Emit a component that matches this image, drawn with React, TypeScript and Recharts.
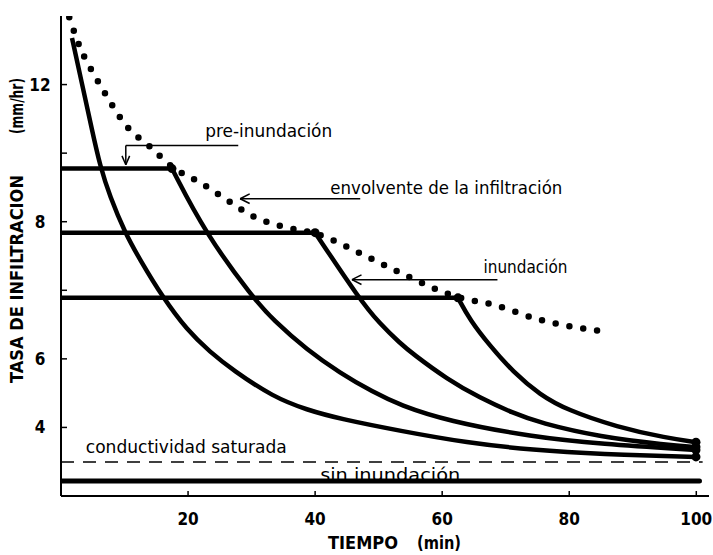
import React from 'react';
import { LineChart, Line, XAxis, YAxis, ReferenceLine, ReferenceDot } from 'recharts';

const FONT = '"DejaVu Sans Condensed", "DejaVu Sans", sans-serif';

// axis ticks
const X_TICKS = [20, 40, 60, 80, 100];
const Y_TICKS = [2, 4, 6, 8, 10, 12];
const Y_TICK_LABELS = ['4', '6', '', '8', '', '12'];

// envolvente de la infiltración (dotted)
const ENV_T = [1.3, 3.0, 5.5, 7.4, 10.4, 14.0, 17.5, 21.9, 26.1, 29.8, 34.8, 40.0, 48.2, 53.4, 62.5, 68.0, 75.4, 85.7];
const ENV_V = [13.96, 13.08, 12.2, 11.6, 10.77, 10.19, 9.6, 9.14, 8.64, 8.2, 7.86, 7.66, 6.98, 6.51, 5.8, 5.58, 5.14, 4.79];

// curve A (no pre-inundación plateau)
const A_T = [1.73, 3.31, 4.88, 6.14, 7.71, 10.07, 12.43, 16.06, 19.83, 23.45, 27.07, 33.37, 38.72, 43.92, 53.36, 63.91, 74.3, 84.84, 99.95];
const A_V = [13.36, 12.02, 10.68, 9.63, 8.73, 7.68, 6.89, 5.78, 4.84, 4.2, 3.67, 2.89, 2.51, 2.25, 1.9, 1.55, 1.34, 1.22, 1.14];

// plateaus (pre-inundación rates) and their end times
const PLATEAU_V = [9.55, 7.68, 5.78];
const PLATEAU_END = [17.47, 40.0, 62.49];

// decay after each plateau
const B_T = [17.47, 22.67, 30.22, 33.37, 38.72, 43.92, 49.11, 53.36, 60.76, 74.3, 84.84, 99.95];
const B_V = [9.55, 7.68, 5.78, 5.14, 4.26, 3.59, 3.03, 2.65, 2.19, 1.72, 1.52, 1.34];
const C_T = [40.0, 47.06, 50.21, 53.36, 55.41, 60.76, 65.95, 71.15, 75.4, 84.84, 95.39, 99.95];
const C_V = [7.68, 5.72, 5.02, 4.46, 4.14, 3.41, 2.86, 2.42, 2.13, 1.72, 1.49, 1.43];
const D_T = [62.49, 64.38, 67.53, 71.15, 75.4, 79.65, 87.52, 95.39, 99.95];
const D_V = [5.78, 5.13, 4.38, 3.62, 2.95, 2.51, 2.01, 1.69, 1.57];

// sin inundación and conductividad saturada
const SIN_T = [0, 100.5];
const SIN_V = [0.44, 0.44];
const KSAT_T = [0, 101];
const KSAT_V = [0.99, 0.99];

// annotation leader lines (data coordinates)
const LEADERS = [
  [10.2, 10.22, 27.9, 10.22],
  [10.2, 10.22, 10.2, 9.66],
  [10.2, 9.66, 9.6, 9.92],
  [10.2, 9.66, 10.8, 9.92],
  [28.2, 8.67, 47.1, 8.67],
  [28.2, 8.67, 29.7, 8.81],
  [28.2, 8.67, 29.7, 8.53],
  [45.8, 6.31, 68.7, 6.31],
  [45.8, 6.31, 47.3, 6.45],
  [45.8, 6.31, 47.3, 6.17],
];

const ANNOT_TEXT = ['pre-inundación', 'envolvente de la infiltración', 'inundación', 'conductividad saturada', 'sin inundación'];
const ANNOT_T = [22.7, 42.4, 66.5, 3.9, 40.8];
const ANNOT_V = [10.66, 8.99, 6.69, 1.43, 0.61];
const ANNOT_WIDTH = [127, 232, 84, 201, 140];

const zip = (t: number[], v: number[]) => t.map((x, i) => ({ t: x, v: v[i] }));

const envData = zip(ENV_T, ENV_V);
const aData = zip(A_T, A_V);
const bData = zip(B_T, B_V);
const cData = zip(C_T, C_V);
const dData = zip(D_T, D_V);
const plateauData = PLATEAU_V.map((v, i) => zip([0, PLATEAU_END[i]], [v, v]));
const sinData = zip(SIN_T, SIN_V);
const ksatData = zip(KSAT_T, KSAT_V);

const YTick = (props: any) => {
  const { x, y, payload } = props;
  const label = Y_TICK_LABELS[Y_TICKS.indexOf(payload.value)];
  return (
    <text x={x} y={y} textAnchor="middle" dominantBaseline="central" fontFamily={FONT} fontWeight="bold" fontSize={17} fill="#000">
      {label}
    </text>
  );
};

const XTick = (props: any) => {
  const { x, y, payload } = props;
  return (
    <text x={x} y={y} textAnchor="middle" dominantBaseline="central" fontFamily={FONT} fontWeight="bold" fontSize={17} fill="#000">
      {payload.value}
    </text>
  );
};

const XTitle = (props: any) => {
  const vb = props.viewBox || { x: 61, y: 496, width: 648, height: 59 };
  const y = vb.y + 47;
  return (
    <g>
      <text x={vb.x + 267} y={y} dominantBaseline="central" fontFamily={FONT} fontWeight="bold" fontSize={17} textLength={70} lengthAdjust="spacingAndGlyphs" fill="#000">TIEMPO</text>
      <text x={vb.x + 356} y={y} dominantBaseline="central" fontFamily={FONT} fontWeight="bold" fontSize={17} textLength={44} lengthAdjust="spacingAndGlyphs" fill="#000">(min)</text>
    </g>
  );
};

const YTitle = () => {
  const x = 17;
  return (
    <g>
      <text x={x} y={279} transform={`rotate(-90 ${x} 279)`} textAnchor="middle" dominantBaseline="central" fontFamily={FONT} fontWeight="bold" fontSize={17} textLength={208} lengthAdjust="spacingAndGlyphs" fill="#000">TASA DE INFILTRACION</text>
      <text x={x} y={106} transform={`rotate(-90 ${x} 106)`} textAnchor="middle" dominantBaseline="central" fontFamily={FONT} fontWeight="bold" fontSize={17} textLength={56} lengthAdjust="spacingAndGlyphs" fill="#000">(mm/hr)</text>
    </g>
  );
};

const endDots = (len: number, withStart: boolean) => (p: any) => {
  if (p.index === len - 1 || (withStart && p.index === 0)) {
    return <circle key={p.index} cx={p.cx} cy={p.cy} r={4.5} fill="#000" />;
  }
  return <g key={p.index} />;
};

const annotLabel = (i: number) => (p: any) => {
  const vb = p.viewBox || { x: 0, y: 0 };
  return (
    <text x={vb.x} y={vb.y} dominantBaseline="central" fontFamily={FONT} fontSize={17} textLength={ANNOT_WIDTH[i]} lengthAdjust="spacingAndGlyphs" fill="#000">
      {ANNOT_TEXT[i]}
    </text>
  );
};

export default function App() {
  return (
    <div style={{ position: 'absolute', left: 0, top: 0, background: '#fff' }}>
      <LineChart width={713} height={555} margin={{ top: 16, right: 4, bottom: 0, left: 0 }}>
        <XAxis
          type="number"
          dataKey="t"
          domain={[0, 102]}
          ticks={X_TICKS}
          interval={0}
          allowDataOverflow
          height={59}
          tickSize={-5}
          tickMargin={28}
          axisLine={{ stroke: '#000', strokeWidth: 2 }}
          tickLine={{ stroke: '#000', strokeWidth: 1.5 }}
          tick={<XTick />}
          label={{ content: XTitle }}
        />
        <YAxis
          type="number"
          dataKey="v"
          domain={[0, 14]}
          ticks={Y_TICKS}
          interval={0}
          allowDataOverflow
          width={61}
          tickSize={-6}
          tickMargin={27}
          axisLine={{ stroke: '#000', strokeWidth: 2 }}
          tickLine={{ stroke: '#000', strokeWidth: 1.5 }}
          tick={<YTick />}
          label={{ content: YTitle }}
        />

        {LEADERS.map((s, i) => (
          <ReferenceLine key={'l' + i} segment={[{ x: s[0], y: s[1] }, { x: s[2], y: s[3] }]} stroke="#000" strokeWidth={1.5} ifOverflow="visible" />
        ))}

        <Line data={ksatData} dataKey="v" type="linear" stroke="#000" strokeWidth={1.6} strokeDasharray="13 9" dot={false} isAnimationActive={false} />
        <Line data={sinData} dataKey="v" type="linear" stroke="#000" strokeWidth={5} strokeLinecap="round" dot={false} isAnimationActive={false} />

        {plateauData.map((d, i) => (
          <Line key={'p' + i} data={d} dataKey="v" type="linear" stroke="#000" strokeWidth={4.5} dot={false} isAnimationActive={false} />
        ))}

        <Line data={aData} dataKey="v" type="basis" stroke="#000" strokeWidth={4.5} dot={endDots(aData.length, false)} isAnimationActive={false} />
        <Line data={bData} dataKey="v" type="basis" stroke="#000" strokeWidth={4.5} dot={endDots(bData.length, true)} isAnimationActive={false} />
        <Line data={cData} dataKey="v" type="basis" stroke="#000" strokeWidth={4.5} dot={endDots(cData.length, true)} isAnimationActive={false} />
        <Line data={dData} dataKey="v" type="basis" stroke="#000" strokeWidth={4.5} dot={endDots(dData.length, true)} isAnimationActive={false} />

        <Line data={envData} dataKey="v" type="monotone" stroke="#000" strokeWidth={6.5} strokeLinecap="round" strokeDasharray="0 14" dot={false} isAnimationActive={false} />

        {ANNOT_TEXT.map((txt, i) => (
          <ReferenceDot key={'a' + i} x={ANNOT_T[i]} y={ANNOT_V[i]} r={0} fill="none" stroke="none" ifOverflow="visible" label={{ content: annotLabel(i) }} />
        ))}
      </LineChart>
    </div>
  );
}
